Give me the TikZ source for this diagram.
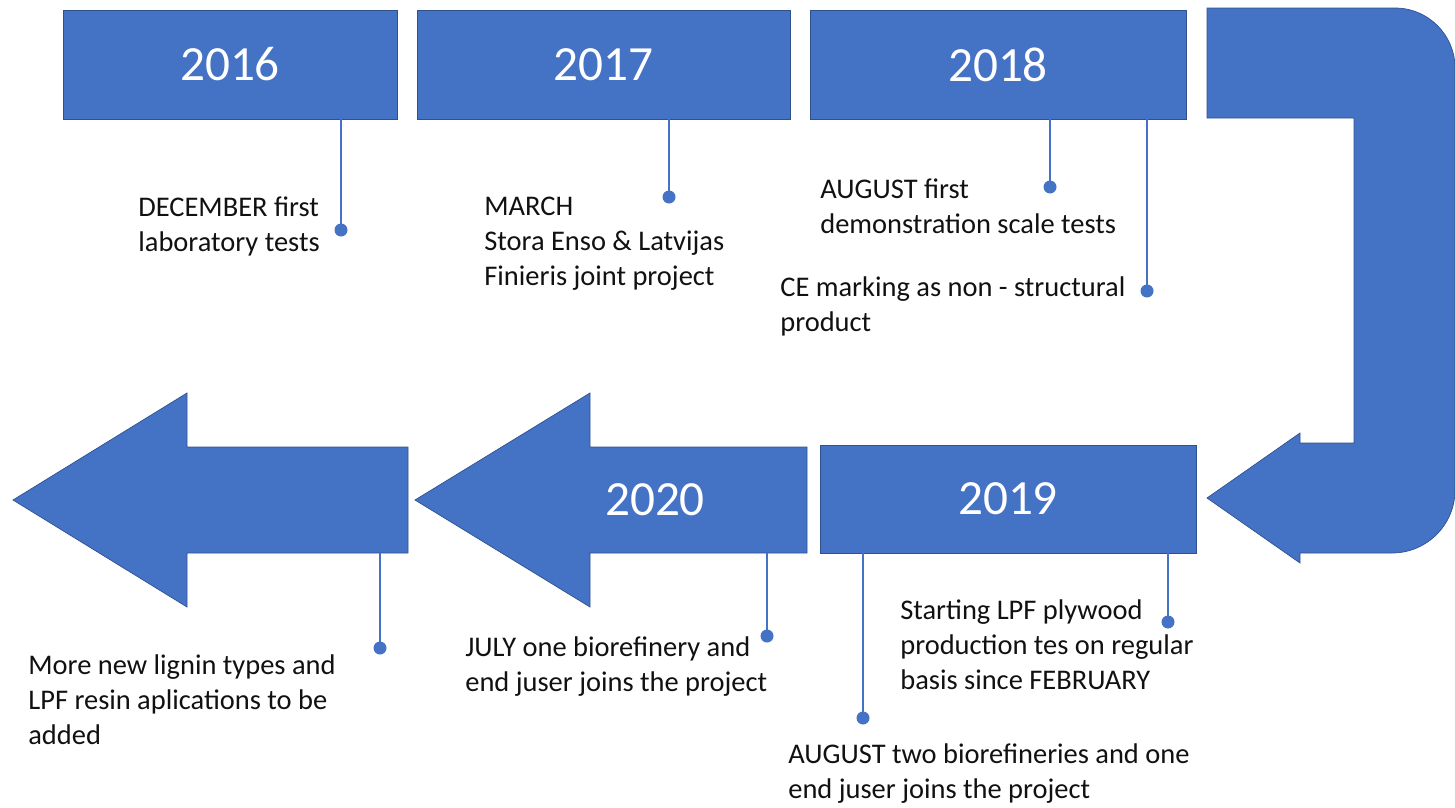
\documentclass[tikz,border=0pt]{standalone}
\usepackage{fontspec}
\setmainfont{Carlito}
\usetikzlibrary{positioning}
\definecolor{officeblue}{HTML}{4472C4}
\definecolor{edgeblue}{HTML}{2F528F}
\definecolor{inktext}{HTML}{111111}

\begin{document}
\begin{tikzpicture}[x=0.02cm, y=-0.02cm,
    yearbox/.style={fill=officeblue, draw=edgeblue, line width=0.4pt, inner sep=0pt,
      text=white, font=\fontsize{28}{34}\selectfont},
    bigarrow/.style={fill=officeblue, draw=edgeblue, line width=0.4pt},
    stem/.style={draw=officeblue, line width=1.5pt},
    event/.style={anchor=west, align=left, inner sep=0pt, text=inktext,
      font=\fontsize{16.2}{19.9}\selectfont}]
  \useasboundingbox (0,0) rectangle (1455,808);

  % top row
  \node[yearbox, minimum width=6.68cm, minimum height=2.18cm] (y2016) at (230,64.5) {2016};
  \node[yearbox, minimum width=7.46cm, minimum height=2.18cm] (y2017) at (603.5,64.5) {2017};
  \node[yearbox, minimum width=7.52cm, minimum height=2.18cm] (y2018) at (998,64.5) {2018};

  % turning arrow
  \coordinate (turnTop) at (1207,8);
  \coordinate (turnTip) at (1207,498);
  \draw[bigarrow] (turnTop) -- (1395,8) arc[start angle=-90, end angle=0, radius=60]
    -- (1455,490) arc[start angle=0, end angle=90, radius=63]
    -- (1300,553) -- (1300,563) -- (turnTip) -- (1300,433) -- (1300,443)
    -- (1354,443) -- (1354,118) -- (1207,118) -- cycle;

  % bottom row
  \node[yearbox, minimum width=7.52cm, minimum height=2.16cm] (y2019) at (1008,499) {2019};
  \coordinate (a2020) at (807,553);
  \draw[bigarrow] (807,447) -- (590,447) -- (590,393) -- (415,500) -- (590,607)
    -- (590,553) -- (a2020) -- cycle;
  \node[text=white, font=\fontsize{28}{34}\selectfont] (y2020) at (655,500) {2020};
  \coordinate (aNext) at (408,553);
  \draw[bigarrow] (408,447) -- (187,447) -- (187,393) -- (13,500) -- (187,607)
    -- (187,553) -- (aNext) -- cycle;

  % events
  \node[event] (dec16) at (138,226) {DECEMBER first\\laboratory tests};
  \node[event] (mar17) at (484,244) {MARCH\\Stora Enso \& Latvijas\\Finieris joint project};
  \node[event] (aug18) at (820,206) {AUGUST first\\demonstration scale tests};
  \node[event] (ce18) at (780,306) {CE marking as non - structural\\product};
  \node[event] (feb19) at (900,645) {Starting LPF plywood\\production tes on regular\\basis since FEBRUARY};
  \node[event] (aug19) at (788,774) {AUGUST two biorefineries and one\\end juser joins the project};
  \node[event] (jul20) at (465,667) {JULY one biorefinery and\\end juser joins the project};
  \node[event] (more) at (28,700) {More new lignin types and\\LPF resin aplications to be\\added};

  % stems with dots
  \coordinate (p16) at (341,230);
  \coordinate (p17) at (669,197);
  \coordinate (p18a) at (1050,187);
  \coordinate (p18b) at (1147,291);
  \coordinate (p19a) at (1168,622);
  \coordinate (p19b) at (863,718);
  \coordinate (p20) at (767,636);
  \coordinate (pNext) at (380,648);

  \draw[stem] (y2016.south -| p16) -- (p16);
  \draw[stem] (y2017.south -| p17) -- (p17);
  \draw[stem] (y2018.south -| p18a) -- (p18a);
  \draw[stem] (y2018.south -| p18b) -- (p18b);
  \draw[stem] (y2019.south -| p19a) -- (p19a);
  \draw[stem] (y2019.south -| p19b) -- (p19b);
  \draw[stem] (a2020 -| p20) -- (p20);
  \draw[stem] (aNext -| pNext) -- (pNext);
  \foreach \p in {p16,p17,p18a,p18b,p19a,p19b,p20,pNext}
    \fill[officeblue] (\p) circle (6.5);
\end{tikzpicture}
\end{document}
